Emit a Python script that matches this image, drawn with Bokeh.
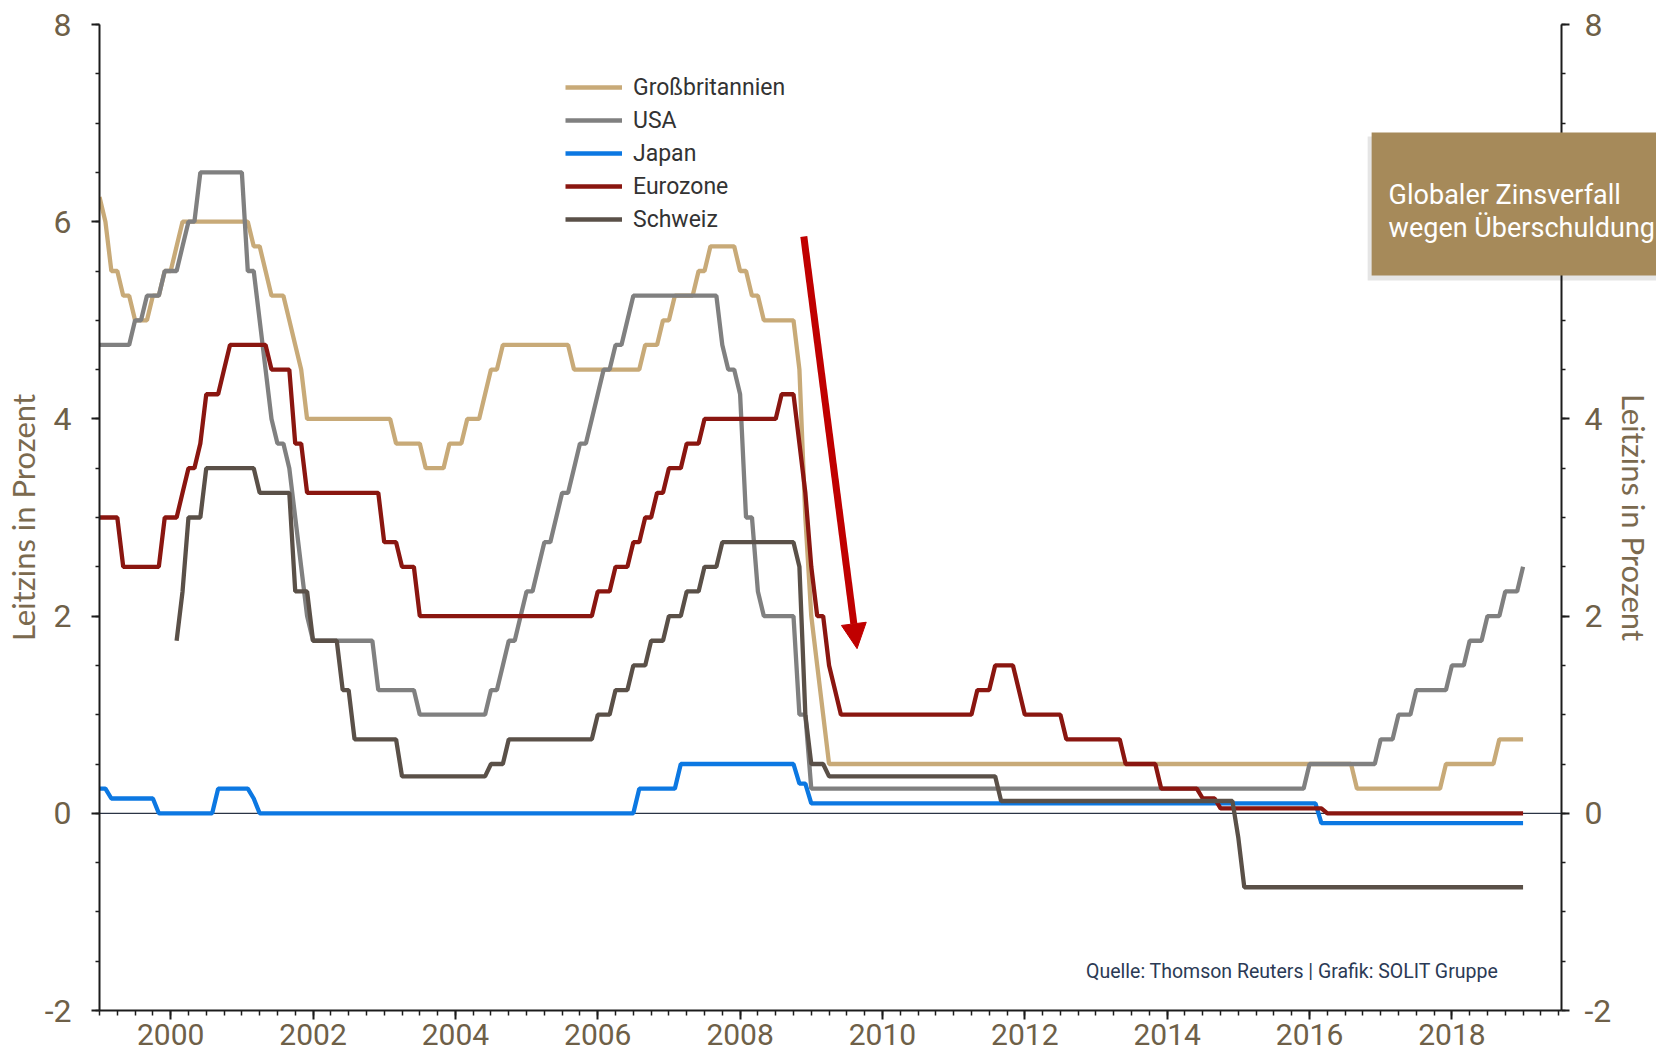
from bokeh.plotting import figure
from bokeh.models import (Range1d, LinearAxis, FixedTicker, Span, Legend, LegendItem,
                          Arrow, NormalHead, Label)
from bokeh.core.properties import value
from bokeh.embed import file_html
from bokeh.resources import INLINE

# ---------------- data: policy rates (%) at the first day of each month (polyline vertices)
uk_dates = ["1999-01", "1999-02", "1999-03", "1999-04", "1999-05", "1999-06", "1999-07", "1999-09",
            "1999-10", "1999-11", "1999-12", "2000-01", "2000-02", "2000-03", "2001-02", "2001-03",
            "2001-04", "2001-05", "2001-06", "2001-08", "2001-09", "2001-10", "2001-11", "2001-12",
            "2003-02", "2003-03", "2003-07", "2003-08", "2003-11", "2003-12", "2004-02", "2004-03",
            "2004-05", "2004-06", "2004-07", "2004-08", "2004-09", "2005-08", "2005-09", "2006-08",
            "2006-09", "2006-11", "2006-12", "2007-01", "2007-02", "2007-05", "2007-06", "2007-07",
            "2007-08", "2007-12", "2008-01", "2008-02", "2008-03", "2008-04", "2008-05", "2008-10",
            "2008-11", "2008-12", "2009-01", "2009-02", "2009-03", "2009-04", "2016-08", "2016-09",
            "2017-11", "2017-12", "2018-08", "2018-09", "2019-01"]
uk_rates = [6.25, 6.0, 5.5, 5.5, 5.25, 5.25, 5.0, 5.0,
            5.25, 5.25, 5.5, 5.5, 5.75, 6.0, 6.0, 5.75,
            5.75, 5.5, 5.25, 5.25, 5.0, 4.75, 4.5, 4.0,
            4.0, 3.75, 3.75, 3.5, 3.5, 3.75, 3.75, 4.0,
            4.0, 4.25, 4.5, 4.5, 4.75, 4.75, 4.5, 4.5,
            4.75, 4.75, 5.0, 5.0, 5.25, 5.25, 5.5, 5.5,
            5.75, 5.75, 5.5, 5.5, 5.25, 5.25, 5.0, 5.0,
            4.5, 3.0, 2.0, 1.5, 1.0, 0.5, 0.5, 0.25,
            0.25, 0.5, 0.5, 0.75, 0.75]

usa_dates = ["1999-01", "1999-06", "1999-07", "1999-08", "1999-09", "1999-11", "1999-12", "2000-02",
             "2000-03", "2000-04", "2000-05", "2000-06", "2001-01", "2001-02", "2001-03", "2001-04",
             "2001-05", "2001-06", "2001-07", "2001-08", "2001-09", "2001-10", "2001-11", "2001-12",
             "2002-01", "2002-11", "2002-12", "2003-06", "2003-07", "2004-06", "2004-07", "2004-08",
             "2004-09", "2004-10", "2004-11", "2004-12", "2005-01", "2005-02", "2005-03", "2005-04",
             "2005-05", "2005-06", "2005-07", "2005-08", "2005-09", "2005-10", "2005-11", "2005-12",
             "2006-01", "2006-02", "2006-03", "2006-04", "2006-05", "2006-06", "2006-07", "2007-09",
             "2007-10", "2007-11", "2007-12", "2008-01", "2008-02", "2008-03", "2008-04", "2008-05",
             "2008-10", "2008-11", "2008-12", "2009-01", "2015-12", "2016-01", "2016-12", "2017-01",
             "2017-03", "2017-04", "2017-06", "2017-07", "2017-12", "2018-01", "2018-03", "2018-04",
             "2018-06", "2018-07", "2018-09", "2018-10", "2018-12", "2019-01"]
usa_rates = [4.75, 4.75, 5.0, 5.0, 5.25, 5.25, 5.5, 5.5,
             5.75, 6.0, 6.0, 6.5, 6.5, 5.5, 5.5, 5.0,
             4.5, 4.0, 3.75, 3.75, 3.5, 3.0, 2.5, 2.0,
             1.75, 1.75, 1.25, 1.25, 1.0, 1.0, 1.25, 1.25,
             1.5, 1.75, 1.75, 2.0, 2.25, 2.25, 2.5, 2.75,
             2.75, 3.0, 3.25, 3.25, 3.5, 3.75, 3.75, 4.0,
             4.25, 4.5, 4.5, 4.75, 4.75, 5.0, 5.25, 5.25,
             4.75, 4.5, 4.5, 4.25, 3.0, 3.0, 2.25, 2.0,
             2.0, 1.0, 1.0, 0.25, 0.25, 0.5, 0.5, 0.75,
             0.75, 1.0, 1.0, 1.25, 1.25, 1.5, 1.5, 1.75,
             1.75, 2.0, 2.0, 2.25, 2.25, 2.5]

japan_dates = ["1999-01", "1999-02", "1999-03", "1999-10", "1999-11", "2000-08", "2000-09", "2001-02",
               "2001-03", "2001-04", "2006-07", "2006-08", "2007-02", "2007-03", "2008-10", "2008-11",
               "2008-12", "2009-01", "2016-02", "2016-03", "2019-01"]
japan_rates = [0.25, 0.25, 0.15, 0.15, 0.0, 0.0, 0.25, 0.25,
               0.15, 0.0, 0.0, 0.25, 0.25, 0.5, 0.5, 0.3,
               0.3, 0.1, 0.1, -0.1, -0.1]

euro_dates = ["1999-01", "1999-04", "1999-05", "1999-11", "1999-12", "2000-02", "2000-03", "2000-04",
              "2000-05", "2000-06", "2000-07", "2000-09", "2000-10", "2000-11", "2001-05", "2001-06",
              "2001-09", "2001-10", "2001-11", "2001-12", "2002-12", "2003-01", "2003-03", "2003-04",
              "2003-06", "2003-07", "2005-12", "2006-01", "2006-03", "2006-04", "2006-06", "2006-07",
              "2006-08", "2006-09", "2006-10", "2006-11", "2006-12", "2007-01", "2007-03", "2007-04",
              "2007-06", "2007-07", "2008-07", "2008-08", "2008-10", "2008-11", "2008-12", "2009-01",
              "2009-02", "2009-03", "2009-04", "2009-05", "2009-06", "2011-04", "2011-05", "2011-07",
              "2011-08", "2011-11", "2011-12", "2012-01", "2012-07", "2012-08", "2013-05", "2013-06",
              "2013-11", "2013-12", "2014-06", "2014-07", "2014-09", "2014-10", "2016-03", "2016-04",
              "2019-01"]
euro_rates = [3.0, 3.0, 2.5, 2.5, 3.0, 3.0, 3.25, 3.5,
              3.5, 3.75, 4.25, 4.25, 4.5, 4.75, 4.75, 4.5,
              4.5, 3.75, 3.75, 3.25, 3.25, 2.75, 2.75, 2.5,
              2.5, 2.0, 2.0, 2.25, 2.25, 2.5, 2.5, 2.75,
              2.75, 3.0, 3.0, 3.25, 3.25, 3.5, 3.5, 3.75,
              3.75, 4.0, 4.0, 4.25, 4.25, 3.75, 3.25, 2.5,
              2.0, 2.0, 1.5, 1.25, 1.0, 1.0, 1.25, 1.25,
              1.5, 1.5, 1.25, 1.0, 1.0, 0.75, 0.75, 0.5,
              0.5, 0.25, 0.25, 0.15, 0.15, 0.05, 0.05, 0.0,
              0.0]

swiss_dates = ["2000-02", "2000-03", "2000-04", "2000-06", "2000-07", "2001-03", "2001-04", "2001-09",
               "2001-10", "2001-12", "2002-01", "2002-05", "2002-06", "2002-07", "2002-08", "2003-03",
               "2003-04", "2004-06", "2004-07", "2004-09", "2004-10", "2005-12", "2006-01", "2006-03",
               "2006-04", "2006-06", "2006-07", "2006-09", "2006-10", "2006-12", "2007-01", "2007-03",
               "2007-04", "2007-06", "2007-07", "2007-09", "2007-10", "2008-10", "2008-11", "2008-12",
               "2009-01", "2009-03", "2009-04", "2011-08", "2011-09", "2014-12", "2015-01", "2015-02",
               "2019-01"]
swiss_rates = [1.75, 2.25, 3.0, 3.0, 3.5, 3.5, 3.25, 3.25,
               2.25, 2.25, 1.75, 1.75, 1.25, 1.25, 0.75, 0.75,
               0.375, 0.375, 0.5, 0.5, 0.75, 0.75, 1.0, 1.0,
               1.25, 1.25, 1.5, 1.5, 1.75, 1.75, 2.0, 2.0,
               2.25, 2.25, 2.5, 2.5, 2.75, 2.75, 2.5, 1.0,
               0.5, 0.5, 0.375, 0.375, 0.125, 0.125, -0.25, -0.75,
               -0.75]

series_names = ["Großbritannien", "USA", "Japan", "Eurozone", "Schweiz"]
series_colors = ["#c8aa78", "#808080", "#0c78e2", "#8a1610", "#5a5048"]

x_tick_years = [2000, 2002, 2004, 2006, 2008, 2010, 2012, 2014, 2016, 2018]
y_ticks = [-2, 0, 2, 4, 6, 8]
y_tick_labels = {-2: "-2", 0: "0", 2: "2", 4: "4", 6: "6", 8: "8"}

title_lines = ["Globaler Zinsverfall", "wegen Überschuldung"]
source_text = "Quelle: Thomson Reuters | Grafik: SOLIT Gruppe"
axis_title = "Leitzins in Prozent"

# arrow annotation (year, percent)
arrow_from = (2008.895, 5.85)
arrow_to = (2009.643, 1.67)

# ---------------- layout (screen px of the screenshot)
W, H = 1656, 1058
ORIGIN = 1                    # where the canvas lands in the screenshot
X0, X1 = 1999.0, 2019.54      # x range
FRAME_LEFT, FRAME_RIGHT = 100, 1563
FRAME_TOP, FRAME_BOTTOM = 25, 1011

FONT = "Roboto"
TICK_COLOR = "#6e6048"
LABEL_COLOR = "#7b6a4f"
AXIS_COLOR = "#1c1c1c"


def ym(s):
    y, m = s.split("-")
    return int(y) + (int(m) - 1) / 12.0


def px_to_x(px):
    return X0 + (px - FRAME_LEFT) * (X1 - X0) / (FRAME_RIGHT - FRAME_LEFT)


def px_to_y(py):
    return 8 - (py - FRAME_TOP) * 10.0 / (FRAME_BOTTOM - FRAME_TOP)


def sx(px):
    return px - FRAME_LEFT


def sy(py):
    return FRAME_BOTTOM - py


p = figure(width=W, height=H, x_range=Range1d(X0, X1), y_range=Range1d(-2, 8),
           output_backend="svg", toolbar_location=None,
           min_border_left=FRAME_LEFT - ORIGIN, min_border_right=ORIGIN + W - FRAME_RIGHT,
           min_border_top=FRAME_TOP - ORIGIN, min_border_bottom=ORIGIN + H - FRAME_BOTTOM,
           background_fill_color="white", border_fill_color="white", outline_line_color=None)
p.xgrid.visible = False
p.ygrid.visible = False

# zero line
p.add_layout(Span(location=0, dimension="width", line_color="#2b3445", line_width=1.3, level="underlay"))

data = [(uk_dates, uk_rates), (usa_dates, usa_rates), (japan_dates, japan_rates),
        (euro_dates, euro_rates), (swiss_dates, swiss_rates)]
renderers = []
for (d, r), c in zip(data, series_colors):
    assert len(d) == len(r)
    renderers.append(p.line([ym(s) for s in d], r, line_color=c, line_width=4.3))

# ---------------- axes
minor_x = [1999 + 0.25 * i for i in range(83)]
minor_y = [-2 + 0.5 * i for i in range(21)]

xa = p.xaxis[0]
xa.ticker = FixedTicker(ticks=x_tick_years, minor_ticks=minor_x)
xa.axis_line_color = AXIS_COLOR
xa.axis_line_width = 2
xa.major_tick_out = 9
xa.major_tick_in = 0
xa.minor_tick_out = 5
xa.minor_tick_in = 0
xa.major_tick_line_color = AXIS_COLOR
xa.major_tick_line_width = 2
xa.minor_tick_line_color = AXIS_COLOR
xa.minor_tick_line_width = 1.5
xa.major_label_text_font = FONT
xa.major_label_text_font_size = "30px"
xa.major_label_text_color = TICK_COLOR
xa.major_label_standoff = 4


def style_y(ax, standoff):
    ax.ticker = FixedTicker(ticks=y_ticks, minor_ticks=minor_y)
    ax.major_label_overrides = y_tick_labels
    ax.axis_line_color = AXIS_COLOR
    ax.axis_line_width = 2
    ax.major_tick_out = 8
    ax.major_tick_in = 0
    ax.minor_tick_out = 4
    ax.minor_tick_in = 0
    ax.major_tick_line_color = AXIS_COLOR
    ax.major_tick_line_width = 2
    ax.minor_tick_line_color = AXIS_COLOR
    ax.minor_tick_line_width = 1.5
    ax.major_label_text_font = FONT
    ax.major_label_text_font_size = "32px"
    ax.major_label_text_color = TICK_COLOR
    ax.major_label_standoff = standoff
    ax.axis_label = axis_title
    ax.axis_label_text_font = "Lato"
    ax.axis_label_text_font_size = "31px"
    ax.axis_label_text_font_style = "normal"
    ax.axis_label_text_color = LABEL_COLOR
    ax.axis_label_standoff = 0


style_y(p.yaxis[0], 20)
p.extra_y_ranges = {"right": Range1d(-2, 8)}
ry = LinearAxis(y_range_name="right")
style_y(ry, 15)
ry.axis_label_standoff = 1
p.add_layout(ry, "right")

# ---------------- legend
legend = Legend(items=[LegendItem(label=n, renderers=[r]) for n, r in zip(series_names, renderers)],
                location=(sx(566), sy(234)),
                orientation="vertical", padding=0, margin=0, spacing=5,
                glyph_width=57, glyph_height=28, label_height=28, label_standoff=11,
                label_text_font=FONT, label_text_font_size="23px", label_text_color="#333333",
                border_line_color=None, background_fill_alpha=0)
p.add_layout(legend)

# ---------------- red arrow
p.add_layout(Arrow(x_start=arrow_from[0], y_start=arrow_from[1], x_end=arrow_to[0], y_end=arrow_to[1],
                   line_color="#c00000", line_width=7,
                   end=NormalHead(size=25, fill_color="#c00000", line_color="#c00000", line_width=1)))

# ---------------- title box (overlay glyphs, drawn over the right axis up to the canvas edge)
p.quad(left=[px_to_x(1369)], right=[px_to_x(1720)], top=[px_to_y(137)], bottom=[px_to_y(281)],
       fill_color="#000000", fill_alpha=0.10, line_color=None, level="overlay")
p.quad(left=[px_to_x(1373)], right=[px_to_x(1720)], top=[px_to_y(133)], bottom=[px_to_y(276)],
       fill_color="#a68a5a", fill_alpha=1.0, line_color=None, level="overlay")
p.text(x=[px_to_x(1390), px_to_x(1390)], y=[px_to_y(195), px_to_y(228)], text=title_lines,
       text_font=value(FONT), text_font_size="27px", text_color="#ffffff",
       text_align="left", text_baseline="alphabetic", level="overlay")

# ---------------- source
p.add_layout(Label(x=sx(1499), y=sy(972), x_units="screen", y_units="screen", text=source_text,
                   text_font=FONT, text_font_size="19.5px", text_color="#2b3a55",
                   text_align="right", text_baseline="alphabetic"))

open("out.html", "w").write(file_html(p, INLINE))
